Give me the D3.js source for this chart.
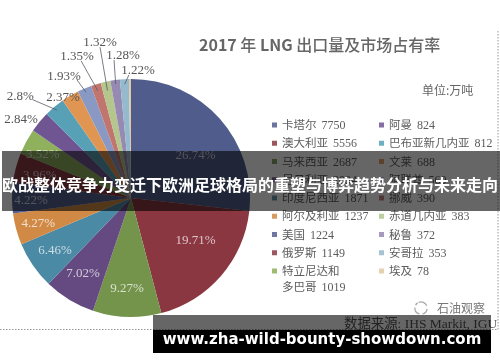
<!DOCTYPE html>
<html>
<head>
<meta charset="utf-8">
<script src="https://cdn.jsdelivr.net/npm/d3@7"></script>
<style>
  html, body { margin: 0; padding: 0; background: #fff; overflow: hidden; }
  svg { display: block; }
  .chart { filter: blur(0.45px); }
</style>
</head>
<body>
<div id="chart"></div>
<script>
// legend order = pie order, clockwise from the top
const countries = ["卡塔尔", "澳大利亚", "马来西亚", "尼日利亚", "印度尼西亚", "阿尔及利亚", "美国", "俄罗斯", "特立尼达和多巴哥",
  "阿曼", "巴布亚新几内亚", "文莱", "阿联酋", "挪威", "赤道几内亚", "秘鲁", "安哥拉", "埃及"];
const tonnes = [7750, 5556, 2687, 2034, 1871, 1237, 1224, 1149, 1019, 824, 812, 688, 560, 390, 383, 372, 353, 78];
const shares = ["26.74%", "19.71%", "9.27%", "7.02%", "6.46%", "4.27%", "4.22%", "3.96%", "3.52%",
  "2.84%", "2.8%", "2.37%", "1.93%", "1.35%", "1.32%", "1.28%", "1.22%", ""];
const colors = ["#505c8c", "#8a3741", "#74934b", "#644a80", "#4b8aa4", "#d08a45", "#56608f", "#8c3a44", "#8fb05c",
  "#6f5692", "#57a0b6", "#e09552", "#8a98c4", "#c0756f", "#b4c58e", "#9689b2", "#95b9cd", "#e0c9a2"];

const width = 500;
const height = 362;
const cx = 131;
const cy = 198;
const radius = 119;

// where each pie label sits: [radius, degrees clockwise from the top]
const labelSpots = [[78, 56], [77, 123], [90, 182.5], [89, 212.6], [92, 235.6], [96, 255], [100, 269.4], [94, 284.2], [99, 297],
  [135.5, 305.7], [151, 312.9], [122.6, 326.3], [140, 331.4], [152, 339.2], [160, 348.8], [144, 356.8], [129, 3.1], [0, 0]];
// leader lines: slice index, radius inside the slice, then [radius, degrees] of the far end
const leaders = [[10, 115, 139, 315], [12, 115, 130, 335.4], [13, 112, 146, 340], [14, 110, 154, 348.4], [15, 115, 139, 353], [16, 114, 123, 359]];

const rad = d => d * Math.PI / 180;

const svg = d3.select("#chart")
  .append("svg")
  .attr("width", width)
  .attr("height", height)
  .attr("viewBox", [0, 0, width, height]);

const chart = svg.append("g").attr("class", "chart");

// pie
const pieGen = d3.pie().sort(null).value(d => d);
const arcs = pieGen(tonnes);
const arcGen = d3.arc().innerRadius(0).outerRadius(radius);

const pieGroup = chart.append("g")
  .attr("transform", `translate(${cx}, ${cy})`);

pieGroup.selectAll("path")
  .data(arcs)
  .join("path")
  .attr("d", arcGen)
  .attr("fill", (d, i) => colors[i]);

// leader lines for the small slices
pieGroup.selectAll("line")
  .data(leaders)
  .join("line")
  .attr("x1", d => {
    const a = arcs[d[0]];
    return d3.pointRadial((a.startAngle + a.endAngle) / 2, d[1])[0];
  })
  .attr("y1", d => {
    const a = arcs[d[0]];
    return d3.pointRadial((a.startAngle + a.endAngle) / 2, d[1])[1];
  })
  .attr("x2", d => d3.pointRadial(rad(d[3]), d[2])[0])
  .attr("y2", d => d3.pointRadial(rad(d[3]), d[2])[1])
  .attr("stroke", "#555c66")
  .attr("stroke-width", 0.8);

// pie labels, a pale tint of the slice inside the pie and grey outside
pieGroup.selectAll("text")
  .data(shares)
  .join("text")
  .attr("x", (d, i) => d3.pointRadial(rad(labelSpots[i][1]), labelSpots[i][0])[0])
  .attr("y", (d, i) => d3.pointRadial(rad(labelSpots[i][1]), labelSpots[i][0])[1])
  .attr("text-anchor", "middle")
  .attr("dominant-baseline", "central")
  .attr("font-family", "Liberation Serif")
  .attr("font-size", 13)
  .attr("fill", (d, i) => i < 9 ? d3.interpolateRgb(colors[i], "#fff")(0.72) : "#555")
  .text(d => d);

// title
chart.append("text")
  .attr("x", 199)
  .attr("y", 51)
  .attr("font-family", "Noto Sans CJK SC")
  .attr("font-size", 16)
  .attr("font-weight", 500)
  .attr("fill", "#666")
  .html('<tspan font-weight="700">2017</tspan> 年 <tspan font-weight="700">LNG</tspan> 出口量及市场占有率');

chart.append("text")
  .attr("x", 422)
  .attr("y", 95)
  .attr("font-family", "Noto Sans CJK SC")
  .attr("font-size", 12)
  .attr("fill", "#666")
  .text("单位:万吨");

// legend: two columns of nine rows
const rowScale = d3.scaleLinear().domain([0, 8]).range([125, 271]);
const colScale = d3.scaleOrdinal().domain([0, 1]).range([272, 379]);

const legendItems = chart.append("g")
  .selectAll("g")
  .data(countries.map((c, i) => ({name: c, value: tonnes[i], color: colors[i], col: i < 9 ? 0 : 1, row: i < 9 ? i : i - 9})))
  .join("g")
  .attr("transform", d => `translate(${colScale(d.col)}, ${rowScale(d.row)})`);

legendItems.append("rect")
  .attr("x", 0)
  .attr("y", -2.5)
  .attr("width", 5)
  .attr("height", 5)
  .attr("fill", d => d.color)
  .attr("fill-opacity", 0.85);

const legendText = legendItems.append("text")
  .attr("x", 10)
  .attr("y", 4)
  .attr("font-size", 11.5)
  .attr("font-family", "Noto Sans CJK SC")
  .attr("fill", "#5c5c5c");

legendText.each(function(d) {
  const t = d3.select(this);
  // the one long name wraps on to a second line
  if (d.name === "特立尼达和多巴哥") {
    t.append("tspan").text("特立尼达和");
    t.append("tspan").attr("x", 10).attr("dy", 15.5).text("多巴哥");
  } else {
    t.append("tspan").text(d.name);
  }
  t.append("tspan")
    .attr("dx", 5)
    .attr("font-family", "Liberation Serif")
    .attr("font-size", 12)
    .text(d.value);
});

// source and watermark
chart.append("text")
  .attr("x", 344)
  .attr("y", 328)
  .attr("font-family", "Noto Sans CJK SC")
  .attr("font-size", 13.4)
  .attr("fill", "#555")
  .html('数据来源<tspan font-family="Liberation Serif" font-size="13.5">: IHS Markit, IGU</tspan>');

chart.append("text")
  .attr("x", 437)
  .attr("y", 313)
  .attr("font-family", "Noto Sans CJK SC")
  .attr("font-size", 12)
  .attr("fill", "#777")
  .text("石油观察");

const swirl = d3.arc().innerRadius(5.5).outerRadius(6.8);
chart.append("g")
  .attr("transform", "translate(421, 308)")
  .selectAll("path")
  .data([[-0.4, 1.2], [1.7, 2.9], [3.4, 4.8], [5.2, 5.7]])
  .join("path")
  .attr("d", d => swirl({startAngle: d[0], endAngle: d[1]}))
  .attr("fill", "#aaa");

// dotted frame of the original picture
chart.append("path")
  .attr("d", d3.line()([[0, 329.5], [498, 329.5], [498, 30]]))
  .attr("fill", "none")
  .attr("stroke", "#999")
  .attr("stroke-width", 1)
  .attr("stroke-dasharray", "1.5 1.5");

// banners on top
svg.append("rect")
  .attr("x", 2)
  .attr("y", 151)
  .attr("width", 498)
  .attr("height", 60)
  .attr("fill", "#000")
  .attr("fill-opacity", 0.6);

svg.append("text")
  .attr("x", 250)
  .attr("y", 191)
  .attr("text-anchor", "middle")
  .attr("font-family", "Noto Sans CJK SC")
  .attr("font-size", 16)
  .attr("font-weight", 700)
  .attr("fill", "#fff")
  .text("欧战整体竞争力变迁下欧洲足球格局的重塑与博弈趋势分析与未来走向");

svg.append("rect")
  .attr("x", 153)
  .attr("y", 315)
  .attr("width", 338)
  .attr("height", 15)
  .attr("fill", "#000")
  .attr("fill-opacity", 0.6);

svg.append("rect")
  .attr("x", 153)
  .attr("y", 330)
  .attr("width", 338)
  .attr("height", 23)
  .attr("fill", "#000");

svg.append("text")
  .attr("x", 322)
  .attr("y", 344)
  .attr("text-anchor", "middle")
  .attr("font-family", "DejaVu Sans")
  .attr("font-size", 15)
  .attr("font-weight", 700)
  .attr("fill", "#fff")
  .text("www.zha-wild-bounty-showdown.com");
</script>
</body>
</html>
